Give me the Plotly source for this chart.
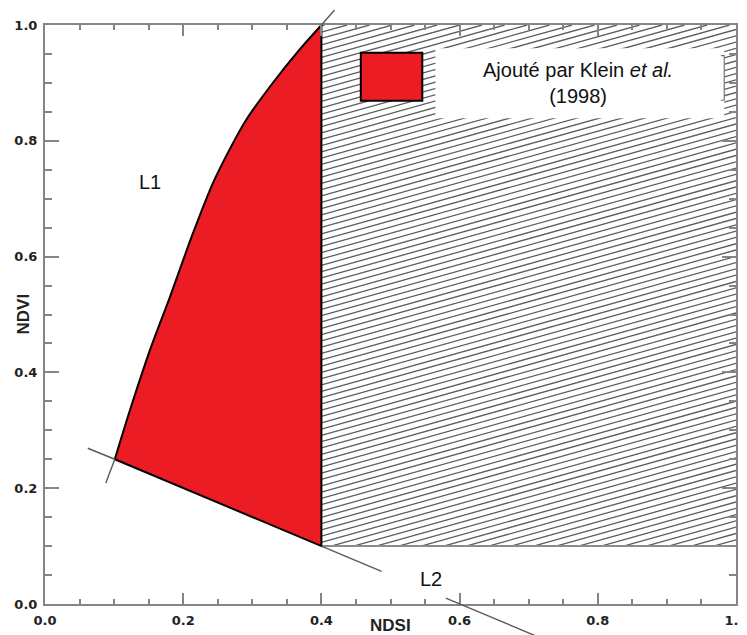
import numpy as np
import plotly.graph_objects as go

# ---------------- data ----------------
x_range = [0.0, 1.0]
y_range = [0.0, 1.0]
tick_vals = [0.0, 0.2, 0.4, 0.6, 0.8, 1.0]
tick_text = ["0.0", "0.2", "0.4", "0.6", "0.8", "1.0"]

# L1 curve (bounding the red zone on the left)
l1_ndsi = [0.101, 0.123, 0.152, 0.181, 0.214, 0.243, 0.272, 0.291, 0.329, 0.368, 0.400]
l1_ndvi = [0.250, 0.335, 0.439, 0.531, 0.640, 0.727, 0.796, 0.836, 0.899, 0.957, 1.000]
# L1 extensions
l1_low_ndsi = [0.088, 0.101]
l1_low_ndvi = [0.209, 0.250]
l1_high_ndsi = [0.400, 0.419]
l1_high_ndvi = [1.000, 1.026]

# L2 line (bottom of red zone)
l2_ndsi = [0.101, 0.400]
l2_ndvi = [0.250, 0.100]
l2_left_ndsi = [0.062, 0.101]
l2_left_ndvi = [0.269, 0.250]
l2_right_ndsi = [0.400, 0.487]
l2_right_ndvi = [0.100, 0.0565]
l2_far_ndsi = [0.580, 0.716]
l2_far_ndvi = [0.010, -0.058]

# hatched snow zone
snow_ndsi = [0.4, 1.0]
snow_ndvi = [0.1, 1.0]

RED = "#EC1C24"
GRAY_AX = "#858585"
GRAY_LN = "#5a5a5a"

# page body has an 8px margin: figure is sized to fill the visible window
W, H = 739, 627
M = dict(l=37, r=11, t=17, b=31)
PW = W - M["l"] - M["r"]
PH = H - M["t"] - M["b"]


def dx(v):
    return (v - x_range[0]) / (x_range[1] - x_range[0])


def dy(v):
    return (v - y_range[0]) / (y_range[1] - y_range[0])


fig = go.Figure()

# ---- hatching texture for the snow zone ----
slope_px = 0.28
k = slope_px * PW / PH
step = 6.3 / PH
hx, hy = [], []
x_lo0, x_hi0 = snow_ndsi
y_lo0, y_hi0 = snow_ndvi
c = y_lo0 - k * (x_hi0 - x_lo0)
while c < y_hi0:
    xa = max(x_lo0, x_lo0 + (y_lo0 - c) / k)
    xb = min(x_hi0, x_lo0 + (y_hi0 - c) / k)
    if xb > xa:
        hx += [xa, xb, None]
        hy += [c + k * (xa - x_lo0), c + k * (xb - x_lo0), None]
    c += step
fig.add_trace(go.Scatter(x=hx, y=hy, mode="lines",
                         line=dict(color="#5e5e5e", width=1.3),
                         hoverinfo="skip", showlegend=False))

# bottom edge of hatched zone
fig.add_trace(go.Scatter(x=snow_ndsi, y=[snow_ndvi[0], snow_ndvi[0]], mode="lines",
                         line=dict(color="#8c8c8c", width=2),
                         hoverinfo="skip", showlegend=False))

# ---- red zone ----
poly_x = l1_ndsi + l2_ndsi[::-1]
poly_y = l1_ndvi + l2_ndvi[::-1]
fig.add_trace(go.Scatter(x=poly_x, y=poly_y, mode="lines", fill="toself",
                         fillcolor=RED, line=dict(color=RED, width=0.5),
                         hoverinfo="skip", showlegend=False))
# L1 smooth border
fig.add_trace(go.Scatter(x=l1_ndsi, y=l1_ndvi, mode="lines",
                         line=dict(color="black", width=2, shape="spline", smoothing=0.8),
                         hoverinfo="skip", showlegend=False))
# vertical border + L2 border
fig.add_trace(go.Scatter(x=[l1_ndsi[-1], l2_ndsi[1], l2_ndsi[0]],
                         y=[l1_ndvi[-1], l2_ndvi[1], l2_ndvi[0]], mode="lines",
                         line=dict(color="black", width=2),
                         hoverinfo="skip", showlegend=False))

shapes = []
# thin grey extension lines (domain refs so they can leave the frame)
for xs, ys in [(l1_low_ndsi, l1_low_ndvi), (l1_high_ndsi, l1_high_ndvi),
               (l2_left_ndsi, l2_left_ndvi), (l2_right_ndsi, l2_right_ndvi),
               (l2_far_ndsi, l2_far_ndvi)]:
    shapes.append(dict(type="line", xref="x domain", yref="y domain",
                       x0=dx(xs[0]), y0=dy(ys[0]), x1=dx(xs[1]), y1=dy(ys[1]),
                       line=dict(color=GRAY_LN, width=1.4), layer="above"))

# legend: white box + red key
shapes.append(dict(type="rect", xref="x", yref="y", x0=0.565, x1=0.983, y0=0.839, y1=0.960,
                   fillcolor="white", line=dict(width=0), layer="above"))
shapes.append(dict(type="rect", xref="x", yref="y", x0=0.457, x1=0.546, y0=0.869, y1=0.952,
                   fillcolor=RED, line=dict(color="black", width=2), layer="above"))
shapes.append(dict(type="path", xref="x", yref="y",
                   path="M 0.978 0.947 L 0.983 0.947 L 0.983 0.870 L 0.978 0.870",
                   line=dict(color="#777", width=1.2), layer="above"))

fig.update_layout(shapes=shapes)

annots = [
    dict(text="Ajouté par Klein <i>et al.</i><br>(1998)", x=0.771, y=0.900,
         xref="x", yref="y", showarrow=False,
         font=dict(family="Liberation Sans", size=20, color="#111")),
    dict(text="L1", x=0.152, y=0.728, xref="x", yref="y", showarrow=False,
         font=dict(family="Liberation Sans", size=20, color="#111")),
    dict(text="L2", x=0.559, y=0.043, xref="x", yref="y", showarrow=False,
         font=dict(family="Liberation Sans", size=20, color="#111")),
    dict(text="NDSI", x=0.5, y=0, xref="x domain", yref="y domain", yshift=-21,
         showarrow=False, yanchor="middle",
         font=dict(family="Liberation Sans", size=17, color="#222", weight="bold")),
    dict(text="NDVI", x=0, y=0.5, xref="x domain", yref="y domain", xshift=-22,
         showarrow=False, textangle=-90, xanchor="center",
         font=dict(family="Liberation Sans", size=17, color="#222", weight="bold")),
]
fig.update_layout(annotations=annots)

axis_common = dict(
    tickvals=tick_vals, ticktext=tick_text,
    showgrid=False, zeroline=False, automargin=False,
    showline=True, linecolor=GRAY_AX, linewidth=2,
    mirror="ticks", ticks="inside", tickcolor=GRAY_AX, tickwidth=2,
    ticklabeloverflow="allow",
    tickfont=dict(family="DejaVu Sans", size=13, color="#222", weight="bold"),
)
fig.update_xaxes(range=x_range, ticklen=11, ticklabelstandoff=3,
                 minor=dict(ticks="inside", dtick=0.05, ticklen=5, tickwidth=1.5,
                            tickcolor=GRAY_AX, showgrid=False),
                 **axis_common)
fig.update_yaxes(range=y_range, ticklen=14, ticklabelstandoff=3,
                 minor=dict(ticks="inside", dtick=0.05, ticklen=7, tickwidth=1.5,
                            tickcolor=GRAY_AX, showgrid=False),
                 **axis_common)

fig.update_layout(width=W, height=H, margin=M,
                  plot_bgcolor="white", paper_bgcolor="white",
                  showlegend=False)

fig.write_html("out.html")
